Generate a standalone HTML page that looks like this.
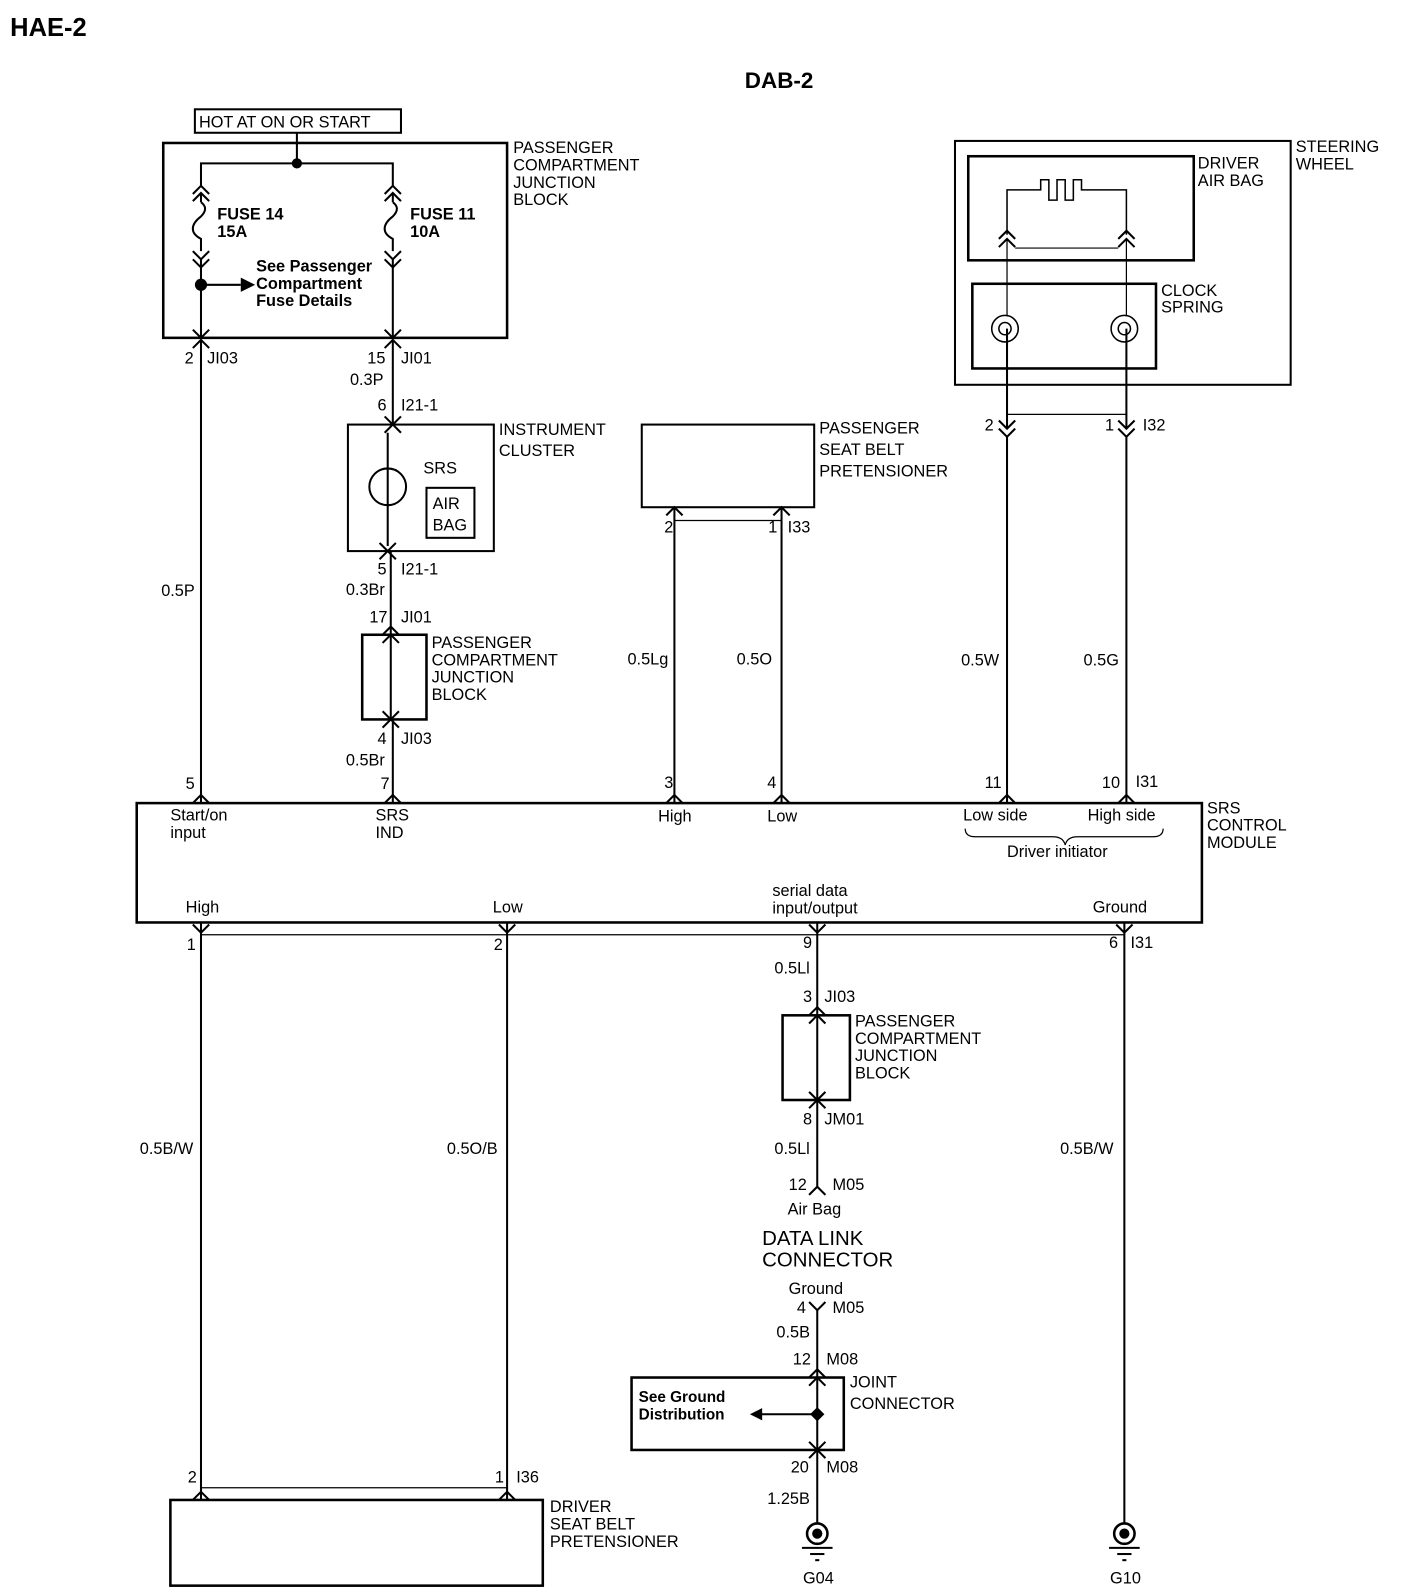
<!DOCTYPE html>
<html><head><meta charset="utf-8"><style>
html,body{margin:0;padding:0;background:#fff;}
svg{display:block;}
text{font-family:"Liberation Sans",sans-serif;fill:#000;font-size:16px;}
.b{font-weight:bold;}
</style></head><body>
<svg width="1408" height="1596" viewBox="0 0 1380 1564" xmlns="http://www.w3.org/2000/svg">
<g stroke="#000" fill="none" stroke-width="2">
<!-- HOT box -->
<rect x="191" y="107" width="202" height="23"/>
<rect x="160" y="140" width="337" height="191" stroke-width="2.5"/>
<line x1="291" y1="130" x2="291" y2="160"/>
<polyline points="197,182 197,160 385,160 385,182"/>
<!-- fuse connectors left -->
<polyline points="189,190 197,182 205,190"/><polyline points="189,197 197,189 205,197"/>
<line x1="197" y1="189" x2="197" y2="198"/>
<path d="M197,198 q8,6 0,14 q-8,6 -8,12 q0,6 8,10 v12"/>
<polyline points="189,246 197,254 205,246"/><polyline points="189,254 197,262 205,254"/>
<line x1="197" y1="254" x2="197" y2="331"/>
<line x1="197" y1="279" x2="236" y2="279"/>
<!-- fuse right -->
<polyline points="377,190 385,182 393,190"/><polyline points="377,197 385,189 393,197"/>
<line x1="385" y1="189" x2="385" y2="198"/>
<path d="M385,198 q8,6 0,14 q-8,6 -8,12 q0,6 8,10 v12"/>
<polyline points="377,246 385,254 393,246"/><polyline points="377,254 385,262 393,254"/>
<line x1="385" y1="254" x2="385" y2="331"/>
<!-- bottom connectors of PCJB -->
<polyline points="189,323 197,331 205,323"/><polyline points="189,341 197,333 205,341"/>
<polyline points="377,323 385,331 393,323"/><polyline points="377,341 385,333 393,341"/>
<!-- left wire -->
<line x1="197" y1="333" x2="197" y2="787"/>
<polyline points="189,787 197,779 205,787"/>
<!-- SRS IND column -->
<line x1="385" y1="333" x2="385" y2="416"/>
<polyline points="377,408 385,416 393,408"/><polyline points="377,424 385,416 393,424"/>
<rect x="341" y="416" width="143" height="124"/>
<line x1="380" y1="424" x2="380" y2="535"/>
<circle cx="380" cy="477" r="18"/>
<rect x="418" y="478" width="47" height="49"/>
<polyline points="372,532 380,540 388,532"/><polyline points="372,548 380,540 388,548"/>
<line x1="383" y1="540" x2="383" y2="622"/>
<polyline points="375,622 383,614 391,622"/><polyline points="375,630 383,622 391,630"/>
<rect x="355" y="622" width="63" height="83" stroke-width="2.5"/>
<line x1="383" y1="622" x2="383" y2="705"/>
<polyline points="375,697 383,705 391,697"/><polyline points="375,713 383,705 391,713"/>
<line x1="385" y1="705" x2="385" y2="787"/>
<polyline points="377,787 385,779 393,787"/>
<!-- passenger seat belt -->
<rect x="629" y="416" width="169" height="81"/>
<line x1="661" y1="510" x2="766" y2="510" stroke-width="1.2"/>
<polyline points="653,505 661,497 669,505"/><polyline points="758,505 766,497 774,505"/>
<line x1="661" y1="497" x2="661" y2="787"/><line x1="766" y1="497" x2="766" y2="787"/>
<polyline points="653,787 661,779 669,787"/><polyline points="758,787 766,779 774,787"/>
<!-- steering wheel -->
<rect x="936" y="138" width="329" height="239"/>
<rect x="949" y="153" width="221" height="102" stroke-width="2.5"/>
<rect x="953" y="278" width="180" height="83" stroke-width="2.5"/>
<polyline points="987,230 987,186 1020,186 1020,176 1028,176 1028,196 1036,196 1036,176 1044,176 1044,196 1052,196 1052,176 1060,176 1060,186 1104,186 1104,230" stroke-width="1.5"/>
<polyline points="979,234 987,226 995,234"/><polyline points="979,242 987,234 995,242"/>
<polyline points="1096,234 1104,226 1112,234"/><polyline points="1096,242 1104,234 1112,242"/>
<line x1="995" y1="243" x2="1096" y2="243" stroke-width="1.2"/>
<line x1="987" y1="234" x2="987" y2="310" stroke-width="1.2"/><line x1="1104" y1="234" x2="1104" y2="310" stroke-width="1.2"/>
<circle cx="985" cy="322" r="13" stroke-width="1.5"/><circle cx="985" cy="322" r="6" stroke-width="1.5"/>
<circle cx="1102" cy="322" r="13" stroke-width="1.5"/><circle cx="1102" cy="322" r="6" stroke-width="1.5"/>
<line x1="987" y1="322" x2="987" y2="420"/><line x1="1104" y1="322" x2="1104" y2="420"/>
<line x1="987" y1="406" x2="1104" y2="406" stroke-width="1.2"/>
<polyline points="979,412 987,420 995,412"/><polyline points="979,420 987,428 995,420"/>
<polyline points="1096,412 1104,420 1112,412"/><polyline points="1096,420 1104,428 1112,420"/>
<line x1="987" y1="428" x2="987" y2="787"/><line x1="1104" y1="428" x2="1104" y2="787"/>
<polyline points="979,787 987,779 995,787"/><polyline points="1096,787 1104,779 1112,787"/>
<!-- SRS module -->
<rect x="134" y="787" width="1044" height="117" stroke-width="2.5"/>
<path d="M946,812 q0,8 10,8 h76 q10,0 12,8 q2,-8 12,-8 h74 q10,0 10,-8" stroke-width="1.2"/>
<!-- bottom pins -->
<line x1="197" y1="916" x2="1102" y2="916" stroke-width="1.2"/>
<polyline points="189,906 197,914 205,906"/><polyline points="489,906 497,914 505,906"/>
<polyline points="793,906 801,914 809,906"/><polyline points="1094,906 1102,914 1110,906"/>
<line x1="197" y1="904" x2="197" y2="1470"/><line x1="497" y1="904" x2="497" y2="1470"/>
<line x1="1102" y1="904" x2="1102" y2="1492"/>
<line x1="197" y1="1458" x2="497" y2="1458" stroke-width="1.2"/>
<polyline points="189,1470 197,1462 205,1470"/><polyline points="489,1470 497,1462 505,1470"/>
<rect x="167" y="1470" width="365" height="84" stroke-width="2.5"/>
<!-- serial data column -->
<line x1="801" y1="904" x2="801" y2="1163"/>
<polyline points="793,995 801,987 809,995"/><polyline points="793,1003 801,995 809,1003"/>
<rect x="767" y="995" width="66" height="83" stroke-width="2.5"/>
<polyline points="793,1070 801,1078 809,1070"/><polyline points="793,1086 801,1078 809,1086"/>
<polyline points="793,1171 801,1163 809,1171"/>
<polyline points="793,1276 801,1284 809,1276"/>
<line x1="801" y1="1284" x2="801" y2="1350"/>
<polyline points="793,1350 801,1342 809,1350"/><polyline points="793,1358 801,1350 809,1358"/>
<rect x="619" y="1350" width="208" height="71" stroke-width="2.5"/>
<line x1="801" y1="1350" x2="801" y2="1421"/>
<line x1="745" y1="1386" x2="801" y2="1386"/>
<polyline points="793,1413 801,1421 809,1413"/><polyline points="793,1429 801,1421 809,1429"/>
<line x1="801" y1="1421" x2="801" y2="1492"/>
<!-- grounds -->
<circle cx="801" cy="1503" r="10" stroke-width="2.5"/>
<line x1="786" y1="1517" x2="816" y2="1517"/><line x1="794" y1="1523" x2="808" y2="1523"/><line x1="799" y1="1529" x2="803" y2="1529"/>
<circle cx="1102" cy="1503" r="10" stroke-width="2.5"/>
<line x1="1087" y1="1517" x2="1117" y2="1517"/><line x1="1095" y1="1523" x2="1109" y2="1523"/><line x1="1100" y1="1529" x2="1104" y2="1529"/>
</g>
<g fill="#000">
<circle cx="291" cy="160" r="5"/><circle cx="197" cy="279" r="6"/>
<polygon points="236,272 250,279 236,286"/>
<circle cx="801" cy="1503" r="5"/><circle cx="1102" cy="1503" r="5"/>
<polygon points="801,1379 808,1386 801,1393 794,1386"/>
<polygon points="735,1386 747,1380 747,1392"/>
</g>
<text x="10" y="35" class="b" style="font-size:25px">HAE-2</text>
<text x="730" y="86" class="b" style="font-size:22px">DAB-2</text>
<text x="195" y="125">HOT AT ON OR START</text>
<g style="font-size:16px">
<text x="503" y="150">PASSENGER</text><text x="503" y="167">COMPARTMENT</text><text x="503" y="184">JUNCTION</text><text x="503" y="201">BLOCK</text>
</g>
<text x="213" y="215" class="b">FUSE 14</text><text x="213" y="232" class="b">15A</text>
<text x="402" y="215" class="b">FUSE 11</text><text x="402" y="232" class="b">10A</text>
<g class="b" style="font-size:15px"><text x="251" y="266" class="b">See Passenger</text><text x="251" y="283" class="b">Compartment</text><text x="251" y="300" class="b">Fuse Details</text></g>
<g style="font-size:15px">
<text x="181" y="356">2</text><text x="203" y="356">JI03</text>
<text x="360" y="356">15</text><text x="393" y="356">JI01</text>
<text x="343" y="377">0.3P</text>
<text x="370" y="402">6</text><text x="393" y="402">I21-1</text>
<text x="370" y="563">5</text><text x="393" y="563">I21-1</text>
<text x="339" y="583">0.3Br</text>
<text x="362" y="610">17</text><text x="393" y="610">JI01</text>
<text x="370" y="729">4</text><text x="393" y="729">JI03</text>
<text x="339" y="750">0.5Br</text>
<text x="158" y="584">0.5P</text>
<text x="373" y="773">7</text><text x="182" y="773">5</text>
<text x="651" y="522">2</text><text x="753" y="522">1</text><text x="772" y="522">I33</text>
<text x="615" y="651">0.5Lg</text><text x="722" y="651">0.5O</text>
<text x="651" y="772">3</text><text x="752" y="772">4</text>
<text x="965" y="422">2</text><text x="1083" y="422">1</text><text x="1120" y="422">I32</text>
<text x="942" y="652">0.5W</text><text x="1062" y="652">0.5G</text>
<text x="965" y="772">11</text><text x="1080" y="772">10</text><text x="1113" y="771">I31</text>
</g>
<text x="489" y="426">INSTRUMENT</text><text x="489" y="447">CLUSTER</text>
<text x="415" y="464">SRS</text><text x="424" y="499">AIR</text><text x="424" y="520">BAG</text>
<g style="font-size:16px"><text x="423" y="635">PASSENGER</text><text x="423" y="652">COMPARTMENT</text><text x="423" y="669">JUNCTION</text><text x="423" y="686">BLOCK</text></g>
<text x="803" y="425">PASSENGER</text><text x="803" y="446">SEAT BELT</text><text x="803" y="467">PRETENSIONER</text>
<text x="1270" y="149">STEERING</text><text x="1270" y="166">WHEEL</text>
<text x="1174" y="165">DRIVER</text><text x="1174" y="182">AIR BAG</text>
<text x="1138" y="290">CLOCK</text><text x="1138" y="306">SPRING</text>
<g style="font-size:15px">
<text x="167" y="804">Start/on</text><text x="167" y="821">input</text>
<text x="368" y="804">SRS</text><text x="368" y="821">IND</text>
<text x="645" y="805">High</text><text x="752" y="805">Low</text>
<text x="944" y="804">Low side</text><text x="1066" y="804">High side</text>
<text x="987" y="840">Driver initiator</text>
<text x="182" y="894">High</text><text x="483" y="894">Low</text>
<text x="757" y="878">serial data</text><text x="757" y="895">input/output</text>
<text x="1071" y="894">Ground</text>
<text x="183" y="931">1</text><text x="484" y="931">2</text><text x="787" y="929">9</text><text x="1087" y="929">6</text><text x="1108" y="929">I31</text>
<text x="137" y="1131">0.5B/W</text><text x="438" y="1131">0.5O/B</text><text x="1039" y="1131">0.5B/W</text>
<text x="184" y="1453">2</text><text x="485" y="1453">1</text><text x="506" y="1453">I36</text>
<text x="759" y="954">0.5Ll</text>
<text x="787" y="982">3</text><text x="808" y="982">JI03</text>
<text x="787" y="1102">8</text><text x="808" y="1102">JM01</text>
<text x="759" y="1131">0.5Ll</text>
<text x="773" y="1166">12</text><text x="816" y="1166">M05</text>
<text x="772" y="1190">Air Bag</text>
<text x="773" y="1268">Ground</text>
<text x="781" y="1287">4</text><text x="816" y="1287">M05</text>
<text x="761" y="1311">0.5B</text>
<text x="777" y="1337">12</text><text x="810" y="1337">M08</text>
<text x="775" y="1443">20</text><text x="810" y="1443">M08</text>
<text x="752" y="1474">1.25B</text>
<text x="787" y="1552">G04</text><text x="1088" y="1552">G10</text>
</g>
<text x="1183" y="797">SRS</text><text x="1183" y="814">CONTROL</text><text x="1183" y="831">MODULE</text>
<g style="font-size:16px"><text x="838" y="1006">PASSENGER</text><text x="838" y="1023">COMPARTMENT</text><text x="838" y="1040">JUNCTION</text><text x="838" y="1057">BLOCK</text></g>
<text x="747" y="1220" style="font-size:20px">DATA LINK</text><text x="747" y="1241" style="font-size:20px">CONNECTOR</text>
<text x="626" y="1374" class="b" style="font-size:15px">See Ground</text><text x="626" y="1391" class="b" style="font-size:15px">Distribution</text>
<text x="833" y="1360">JOINT</text><text x="833" y="1381">CONNECTOR</text>
<text x="539" y="1482">DRIVER</text><text x="539" y="1499">SEAT BELT</text><text x="539" y="1516">PRETENSIONER</text>
</svg>
</body></html>
